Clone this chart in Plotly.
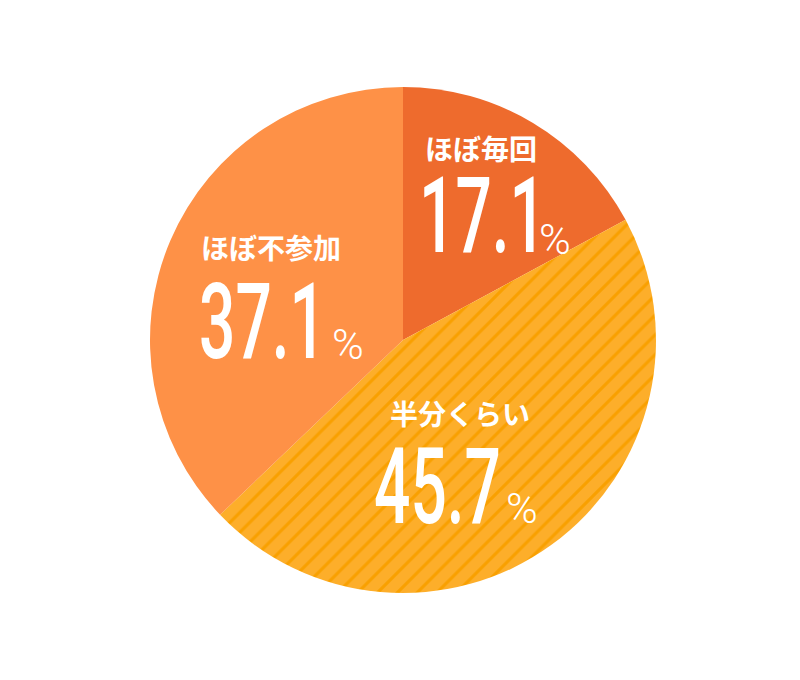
import plotly.graph_objects as go

categories = ["ほぼ毎回", "半分くらい", "ほぼ不参加"]
values = [17.1, 45.7, 37.1]
value_labels = ["17.1", "45.7", "37.1"]
colors = ["#EE6B2D", "#FDAE2A", "#FE9147"]
patterns = ["", "/", ""]

W, H = 800, 680

def px(x):
    return x / W

def py(y):
    return 1 - y / H

fig = go.Figure()
fig.add_trace(go.Pie(
    labels=categories,
    values=values,
    sort=False,
    direction="clockwise",
    rotation=0,
    textinfo="none",
    hoverinfo="label+percent",
    marker=dict(
        colors=colors,
        line=dict(width=0),
        pattern=dict(shape=patterns, fgcolor="#F9A000", bgcolor=colors,
                     size=14, solidity=0.22),
    ),
    domain=dict(x=[px(150), px(656)], y=[py(593), py(87)]),
    showlegend=False,
))

# label placement (pixel positions of text blocks)
label_pos = [(481, 148), (460, 413), (271, 247)]
num_pos = [(417, 217), (372, 487), (197, 322)]
pct_pos = [(537, 239), (504, 508), (330, 344)]

annotations = []
for i in range(3):
    annotations.append(dict(
        text=categories[i], x=px(label_pos[i][0]), y=py(label_pos[i][1]),
        xref="paper", yref="paper", xanchor="center", yanchor="middle",
        showarrow=False,
        font=dict(family="Noto Sans CJK JP", size=28, color="white", weight=700),
    ))
for i in range(3):
    annotations.append(dict(
        text=value_labels[i], x=px(num_pos[i][0]), y=py(num_pos[i][1]),
        xref="paper", yref="paper", xanchor="left", yanchor="middle",
        showarrow=False,
        font=dict(family="Roboto", size=105, color="white", weight=500),
    ))
for i in range(3):
    annotations.append(dict(
        text="%", x=px(pct_pos[i][0]), y=py(pct_pos[i][1]),
        xref="paper", yref="paper", xanchor="left", yanchor="middle",
        showarrow=False,
        font=dict(family="Roboto", size=43, color="white", weight=300),
    ))

fig.update_layout(
    width=W, height=H,
    margin=dict(l=0, r=0, t=0, b=0),
    paper_bgcolor="white",
    plot_bgcolor="white",
    annotations=annotations,
)

css = ", ".join('g.annotation[data-index="%d"] text' % k for k in (3, 4, 5))
js = """
document.body.style.margin = '0';
var s = document.createElement('style');
s.textContent = '%s { transform-box: fill-box; transform-origin: 0%% 50%%; transform: scaleX(0.61); }';
document.head.appendChild(s);
""" % css

fig.write_html("out.html", post_script=js, config={"displayModeBar": False})
